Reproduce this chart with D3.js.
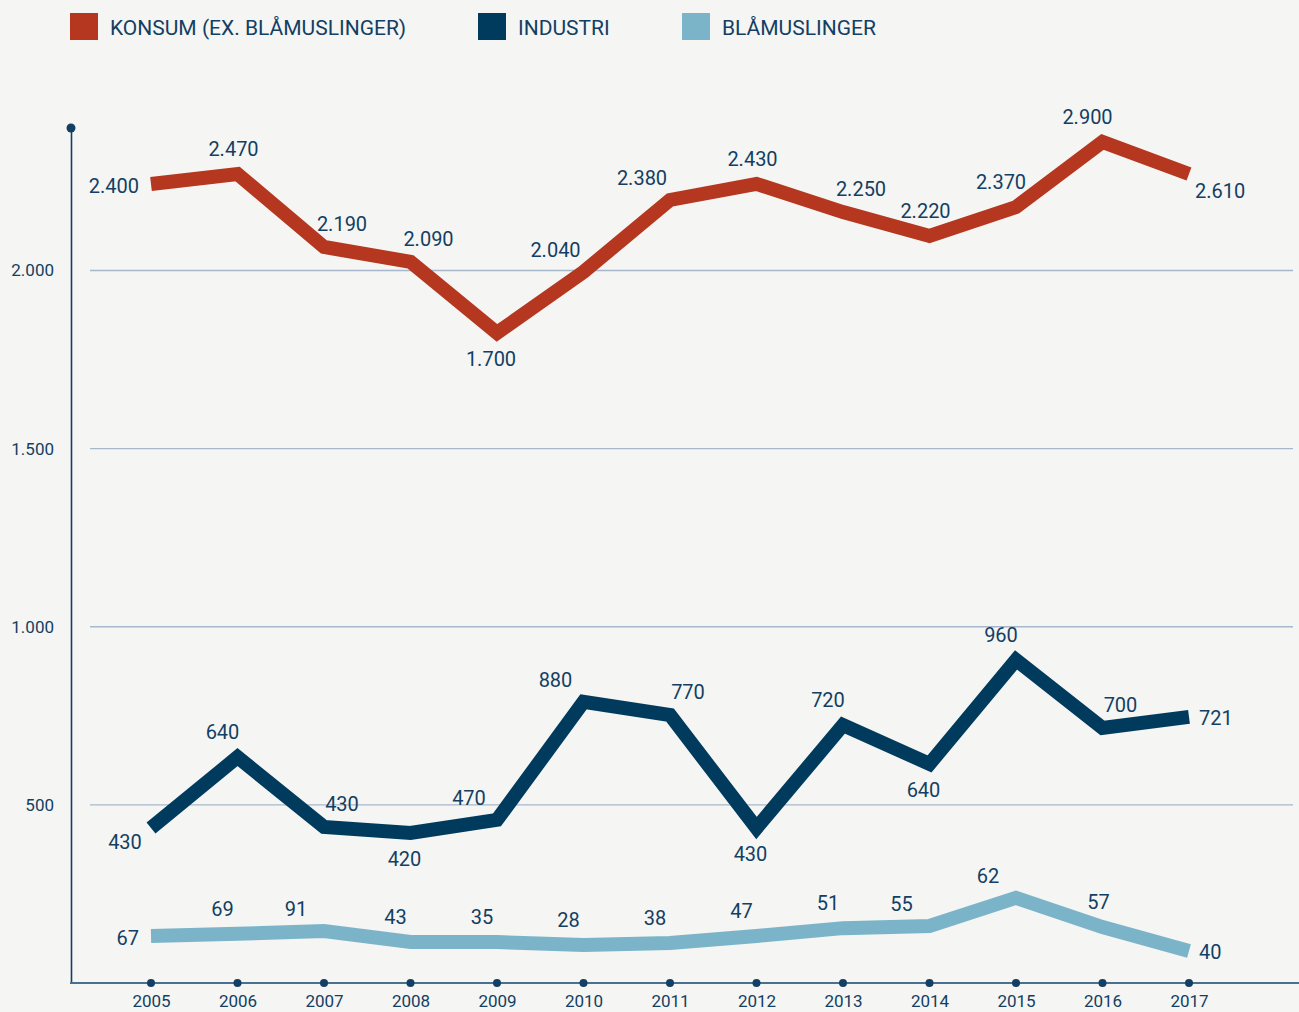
<!DOCTYPE html>
<html>
<head>
<meta charset="utf-8">
<script src="https://cdn.jsdelivr.net/npm/d3@7"></script>
<style>
  body { margin: 0; background: #f5f5f3; }
  svg { display: block; font-family: Roboto, "Open Sans", sans-serif; }
</style>
</head>
<body>
<div id="chart"></div>
<script>
// Data
var years = [2005, 2006, 2007, 2008, 2009, 2010, 2011, 2012, 2013, 2014, 2015, 2016, 2017];

// plotted positions
var konsumValues = [2243, 2271, 2066, 2024, 1825, 1996, 2198, 2243, 2164, 2097, 2178, 2361, 2271];
var industriValues = [435, 634, 438, 421, 458, 789, 752, 435, 724, 615, 907, 716, 747];
var blaaValues = [132, 138, 146, 115, 115, 107, 112, 132, 154, 160, 239, 157, 90];

// printed value labels
var konsumLabels = ["2.400", "2.470", "2.190", "2.090", "1.700", "2.040", "2.380", "2.430", "2.250", "2.220", "2.370", "2.900", "2.610"];
var industriLabels = ["430", "640", "430", "420", "470", "880", "770", "430", "720", "640", "960", "700", "721"];
var blaaLabels = ["67", "69", "91", "43", "35", "28", "38", "47", "51", "55", "62", "57", "40"];

// where each label sits relative to its point
var konsumPlace = ["w", "n", "ne", "ne", "s", "nww", "nww", "n", "ne", "n", "nw", "nw", "se"];
var industriPlace = ["sw", "nw", "ne", "s", "nww", "nww", "ne", "s", "nw", "s", "nw", "ne", "e"];
var blaaPlace = ["w", "nw", "nww", "nw", "nw", "nw", "nw", "nw", "nw", "nww", "nww", "n", "e"];

var yTicks = [500, 1000, 1500, 2000];

var seriesNames = ["KONSUM (EX. BLÅMUSLINGER)", "INDUSTRI", "BLÅMUSLINGER"];
var seriesColors = ["#b5371f", "#003b5e", "#7bb4c9"];

var textColor = "#123f63";

class LineChart {

	constructor(_parentElement, _width, _height){
		this.parentElement = _parentElement;
		this.svgWidth = _width;
		this.svgHeight = _height;

		this.initializeChart();
	}

	initializeChart(){
		var vis = this;

		vis.svg = d3.select(vis.parentElement)
					.append("svg")
					.attr("width", vis.svgWidth)
					.attr("height", vis.svgHeight);

		// Scales
		vis.xScale = d3.scalePoint().domain(years).range([151, 1189]);
		vis.yScale = d3.scaleLinear().domain([0, 2400]).range([983, 128]);

		vis.fmt = d3.formatLocale({decimal: ",", thousands: ".", grouping: [3], currency: ["", ""]}).format(",");

		// label offsets
		vis.offsets = {
			n:   {dx: -4,  dy: -25, anchor: "middle"},
			nw:  {dx: -15, dy: -25, anchor: "middle"},
			nww: {dx: -28, dy: -22, anchor: "middle"},
			ne:  {dx: 18,  dy: -23, anchor: "middle"},
			s:   {dx: -6,  dy: 26,  anchor: "middle"},
			sw:  {dx: -26, dy: 14,  anchor: "middle"},
			w:   {dx: -12, dy: 2,   anchor: "end"},
			e:   {dx: 10,  dy: 1,   anchor: "start"},
			se:  {dx: 6,   dy: 17,  anchor: "start"}
		};

		vis.drawLegend();
		vis.drawAxes();
		vis.drawSeries(konsumValues, konsumLabels, konsumPlace, seriesColors[0]);
		vis.drawSeries(industriValues, industriLabels, industriPlace, seriesColors[1]);
		vis.drawSeries(blaaValues, blaaLabels, blaaPlace, seriesColors[2]);
	}

	drawLegend(){
		var vis = this;
		var legendX = [70, 478, 682];

		var items = vis.svg.append("g").attr("class", "legend")
			.selectAll("g").data(seriesNames).enter().append("g")
			.attr("transform", (d, i) => "translate(" + legendX[i] + ",13)");

		items.append("rect")
			.attr("width", 28)
			.attr("height", 27)
			.attr("fill", (d, i) => seriesColors[i]);

		items.append("text")
			.attr("x", 40)
			.attr("y", 22)
			.attr("fill", textColor)
			.style("font-size", "21px")
			.text(d => d);
	}

	drawAxes(){
		var vis = this;

		// grid lines
		vis.svg.append("g").selectAll("line").data(yTicks).enter().append("line")
			.attr("x1", 90)
			.attr("x2", 1293)
			.attr("y1", d => vis.yScale(d))
			.attr("y2", d => vis.yScale(d))
			.attr("stroke", "#a9b7cd")
			.attr("stroke-width", 1.3);

		// y axis
		vis.yAxis = vis.svg.append("g")
			.attr("transform", "translate(71,0)")
			.call(d3.axisLeft(vis.yScale).tickValues(yTicks).tickSize(0).tickSizeOuter(0).tickPadding(17).tickFormat(vis.fmt));
		vis.yAxis.select(".domain").attr("stroke", textColor).attr("stroke-width", 1.6);
		vis.yAxis.selectAll("text").attr("fill", textColor).style("font-size", "17px").style("font-family", "Roboto, sans-serif");

		vis.svg.append("circle")
			.attr("cx", 71)
			.attr("cy", vis.yScale(2400))
			.attr("r", 4.5)
			.attr("fill", textColor);

		// x axis
		vis.svg.append("line")
			.attr("x1", 70)
			.attr("x2", 1299)
			.attr("y1", vis.yScale(0))
			.attr("y2", vis.yScale(0))
			.attr("stroke", "#49708f")
			.attr("stroke-width", 1.8);

		vis.xAxis = vis.svg.append("g")
			.attr("transform", "translate(0," + vis.yScale(0) + ")")
			.call(d3.axisBottom(vis.xScale).tickSize(0).tickPadding(12));
		vis.xAxis.select(".domain").remove();
		vis.xAxis.selectAll("text").attr("fill", textColor).style("font-size", "17px").style("font-family", "Roboto, sans-serif");

		vis.svg.append("g").selectAll("circle").data(years).enter().append("circle")
			.attr("cx", d => vis.xScale(d))
			.attr("cy", vis.yScale(0))
			.attr("r", 4)
			.attr("fill", textColor);
	}

	drawSeries(values, labels, place, color){
		var vis = this;

		var line = d3.line()
			.x((d, i) => vis.xScale(years[i]))
			.y(d => vis.yScale(d));

		vis.svg.append("path")
			.datum(values)
			.attr("d", line)
			.attr("fill", "none")
			.attr("stroke", color)
			.attr("stroke-width", 14)
			.attr("stroke-linejoin", "miter")
			.attr("stroke-linecap", "butt");

		vis.svg.append("g").selectAll("text").data(values).enter().append("text")
			.attr("x", (d, i) => vis.xScale(years[i]) + vis.offsets[place[i]].dx)
			.attr("y", (d, i) => vis.yScale(d) + vis.offsets[place[i]].dy)
			.attr("dy", "0.35em")
			.attr("text-anchor", (d, i) => vis.offsets[place[i]].anchor)
			.attr("fill", textColor)
			.style("font-size", "20px")
			.text((d, i) => labels[i]);
	}
}

var chart = new LineChart("#chart", 1299, 1012);
</script>
</body>
</html>
